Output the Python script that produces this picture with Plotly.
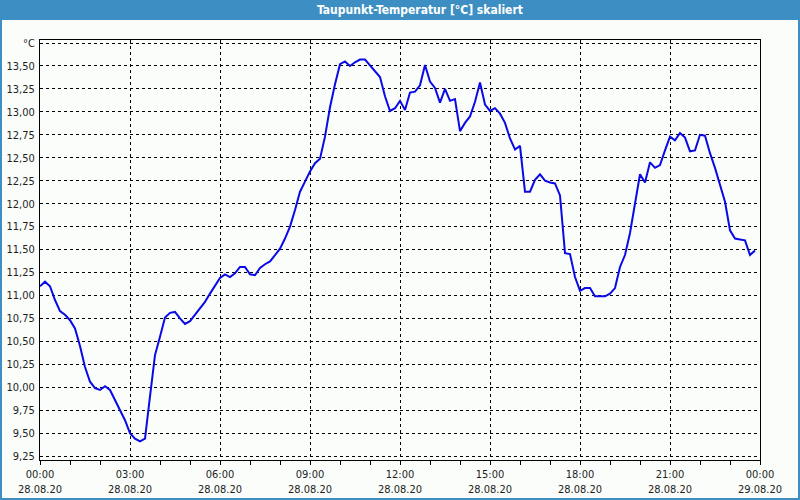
import plotly.graph_objects as go

# ---- data ----
times = [
    "00:00","00:10","00:20","00:30","00:40","00:50","01:00","01:10","01:20","01:30","01:40","01:50",
    "02:00","02:10","02:20","02:30","02:40","02:50","03:00","03:10","03:20","03:30","03:40","03:50",
    "04:00","04:10","04:20","04:30","04:40","04:50","05:00","05:10","05:20","05:30","05:40","05:50",
    "06:00","06:10","06:20","06:30","06:40","06:50","07:00","07:10","07:20","07:30","07:40","07:50",
    "08:00","08:10","08:20","08:30","08:40","08:50","09:00","09:10","09:20","09:30","09:40","09:50",
    "10:00","10:10","10:20","10:30","10:40","10:50","11:00","11:10","11:20","11:30","11:40","11:50",
    "12:00","12:10","12:20","12:30","12:40","12:50","13:00","13:10","13:20","13:30","13:40","13:50",
    "14:00","14:10","14:20","14:30","14:40","14:50","15:00","15:10","15:20","15:30","15:40","15:50",
    "16:00","16:10","16:20","16:30","16:40","16:50","17:00","17:10","17:20","17:30","17:40","17:50",
    "18:00","18:10","18:20","18:30","18:40","18:50","19:00","19:10","19:20","19:30","19:40","19:50",
    "20:00","20:10","20:20","20:30","20:40","20:50","21:00","21:10","21:20","21:30","21:40","21:50",
    "22:00","22:10","22:20","22:30","22:40","22:50","23:00","23:10","23:20","23:30","23:40","23:50",
]
dew_point = [
    11.10, 11.15, 11.10, 10.95, 10.83, 10.79, 10.73, 10.64, 10.45, 10.22, 10.06, 9.99,
    9.97, 10.01, 9.97, 9.86, 9.75, 9.64, 9.50, 9.44, 9.41, 9.44, 9.90, 10.35,
    10.55, 10.76, 10.81, 10.82, 10.75, 10.69, 10.72, 10.79, 10.86, 10.93, 11.02, 11.11,
    11.19, 11.23, 11.20, 11.24, 11.31, 11.31, 11.23, 11.22, 11.30, 11.34, 11.37, 11.44,
    11.51, 11.62, 11.75, 11.93, 12.13, 12.24, 12.35, 12.44, 12.49, 12.73, 13.05, 13.30,
    13.52, 13.55, 13.50, 13.54, 13.57, 13.57, 13.51, 13.45, 13.38, 13.17, 13.01, 13.04,
    13.12, 13.02, 13.21, 13.22, 13.29, 13.51, 13.33, 13.26, 13.10, 13.25, 13.12, 13.14,
    12.79, 12.88, 12.95, 13.11, 13.32, 13.08, 13.01, 13.04, 12.98, 12.88, 12.71, 12.59,
    12.63, 12.13, 12.13, 12.26, 12.32, 12.25, 12.23, 12.22, 12.09, 11.46, 11.45, 11.20,
    11.05, 11.08, 11.08, 10.99, 10.99, 10.99, 11.02, 11.08, 11.31, 11.44, 11.68, 12.00,
    12.32, 12.23, 12.45, 12.39, 12.42, 12.58, 12.73, 12.69, 12.77, 12.72, 12.57, 12.58,
    12.75, 12.74, 12.55, 12.39, 12.20, 12.02, 11.71, 11.62, 11.61, 11.60, 11.44, 11.49,
]
date = "2020-08-28"
x_tick_vals = ["2020-08-28 00:00", "2020-08-28 03:00", "2020-08-28 06:00", "2020-08-28 09:00",
               "2020-08-28 12:00", "2020-08-28 15:00", "2020-08-28 18:00", "2020-08-28 21:00",
               "2020-08-29 00:00"]
x_tick_text = ["00:00<br>28.08.20", "03:00<br>28.08.20", "06:00<br>28.08.20", "09:00<br>28.08.20",
               "12:00<br>28.08.20", "15:00<br>28.08.20", "18:00<br>28.08.20", "21:00<br>28.08.20",
               "00:00<br>29.08.20"]
y_tick_vals = [9.25, 9.50, 9.75, 10.00, 10.25, 10.50, 10.75, 11.00, 11.25, 11.50, 11.75,
               12.00, 12.25, 12.50, 12.75, 13.00, 13.25, 13.50, 13.75]
y_tick_text = ["9,25", "9,50", "9,75", "10,00", "10,25", "10,50", "10,75", "11,00", "11,25",
               "11,50", "11,75", "12,00", "12,25", "12,50", "12,75", "13,00", "13,25", "13,50", "°C"]
title_text = "Taupunkt-Temperatur [°C] skaliert"

x_vals = [f"{date} {t}" for t in times]

W, H = 800, 500
L, R, T, B = 40, 40, 40, 40
PW, PH = W - L - R, H - T - B


def px_x(x):
    return (x - L) / PW


def px_y(y):
    return (H - B - y) / PH


FONT = "DejaVu Sans Condensed, DejaVu Sans, sans-serif"
BLUE_BAR = "#3d8fc3"
TXT = "#1e1e1e"

fig = go.Figure()
fig.add_trace(go.Scatter(
    x=x_vals, y=dew_point, mode="lines",
    line=dict(color="#0a0ae6", width=2),
    hoverinfo="skip", showlegend=False,
))

fig.update_layout(
    width=W, height=H,
    margin=dict(l=L, r=R, t=T, b=B, autoexpand=False),
    paper_bgcolor="#fbfdfb",
    plot_bgcolor="#fbfdfb",
    font=dict(family=FONT, size=11, color=TXT),
    showlegend=False,
    xaxis=dict(
        type="date", automargin=False,
        range=["2020-08-28 00:00", "2020-08-29 00:00"],
        tickvals=x_tick_vals, ticktext=x_tick_text,
        ticks="outside", ticklen=4, tickcolor="black", tickwidth=1,
        minor=dict(dtick=3600000, ticks="outside", ticklen=4, tickcolor="black", showgrid=False),
        showgrid=True, gridcolor="black", gridwidth=1, griddash="3px,3px",
        showline=True, linecolor="black", linewidth=1, mirror=True,
        zeroline=False, tickfont=dict(family=FONT, size=11, color=TXT),
        fixedrange=True,
    ),
    yaxis=dict(
        automargin=False,
        range=[9.207, 13.783],
        tickvals=y_tick_vals, ticktext=y_tick_text,
        ticks="", showgrid=True, gridcolor="black", gridwidth=1, griddash="3px,3px",
        showline=True, linecolor="black", linewidth=1, mirror=True,
        zeroline=False, tickfont=dict(family=FONT, size=11, color=TXT),
        ticklabelstandoff=2,
        fixedrange=True,
    ),
    shapes=[
        dict(type="rect", xref="paper", yref="paper",
             x0=px_x(0), x1=px_x(W), y0=px_y(20), y1=px_y(0),
             fillcolor=BLUE_BAR, line=dict(width=0), layer="above"),
        dict(type="rect", xref="paper", yref="paper",
             x0=px_x(1), x1=px_x(W - 1), y0=px_y(H - 1), y1=px_y(1),
             fillcolor="rgba(0,0,0,0)", line=dict(color=BLUE_BAR, width=2), layer="above"),
    ],
    annotations=[
        dict(text=f"<b>{title_text}</b>", xref="paper", yref="paper",
             x=px_x(420), y=px_y(10), xanchor="center", yanchor="middle",
             showarrow=False, font=dict(family="DejaVu Sans Condensed, DejaVu Sans, sans-serif",
                                        size=12, color="white")),
    ],
)

fig.write_html("out.html")
